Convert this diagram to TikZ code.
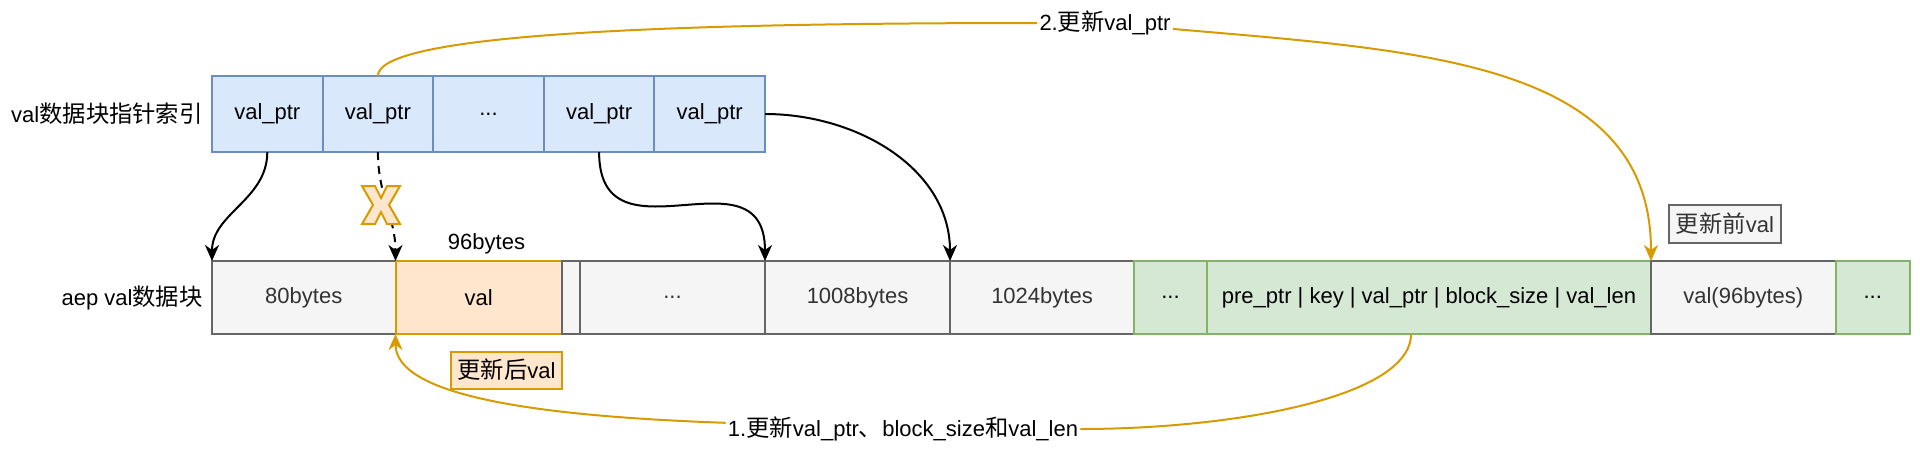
\documentclass[tikz,border=0pt]{standalone}
\usepackage{fontspec}
\setmainfont{Liberation Sans}
\newfontfamily\cjk[Scale=1.06]{Noto Sans CJK SC}
\usetikzlibrary{positioning,arrows.meta}

\definecolor{idxfill}{HTML}{DAE8FC}
\definecolor{idxline}{HTML}{6C8EBF}
\definecolor{blkfill}{HTML}{F5F5F5}
\definecolor{blkline}{HTML}{666666}
\definecolor{blktext}{HTML}{333333}
\definecolor{hdrfill}{HTML}{D5E8D4}
\definecolor{hdrline}{HTML}{82B366}
\definecolor{updfill}{HTML}{FFE6CC}
\definecolor{updline}{HTML}{D79B00}

\tikzset{
    idx/.style={draw=idxline, fill=idxfill, line width=1pt,
        minimum width=55.3pt, minimum height=38pt, inner sep=0pt, outer sep=0pt},
    blk/.style={draw=blkline, fill=blkfill, text=blktext, line width=1pt,
        minimum height=36.5pt, inner sep=0pt, outer sep=0pt},
    hdr/.style={blk, draw=hdrline, fill=hdrfill, text=black},
    upd/.style={blk, draw=updline, fill=updfill, text=black},
    tag/.style={draw=blkline, fill=blkfill, text=blktext, line width=1pt,
        minimum width=56pt, minimum height=19pt, inner sep=0pt},
    ptr/.style={line width=1pt, -{Stealth[length=8pt,width=7pt,inset=2.5pt]}},
    flow/.style={ptr, draw=updline, fill=none},
}

\begin{document}
\begin{tikzpicture}[x=0.5pt, y=0.5pt, font=\fontsize{11}{13}\selectfont]
            \useasboundingbox (0,0) rectangle (1920,452);
            % index of val pointers
            \node[idx, anchor=north west] (p1) at (212,376) {val\_ptr};
            \node[idx, right=0pt of p1] (p2) {val\_ptr};
            \node[idx, right=0pt of p2] (p3) {...};
            \node[idx, right=0pt of p3] (p4) {val\_ptr};
            \node[idx, right=0pt of p4] (p5) {val\_ptr};
            \node[anchor=east, inner sep=0pt] (idxname) at (203,338) {val{\cjk 数据块指针索引}};
            % aep data block
            \node[blk, minimum width=91.75pt, anchor=north west] (b80) at (212,191) {80bytes};
            \node[upd, minimum width=83.25pt, right=0pt of b80] (bval) {val};
            \node[blk, minimum width=9pt, right=0pt of bval] (bgap) {};
            \node[blk, minimum width=92.5pt, right=0pt of bgap] (bdots) {...};
            \node[blk, minimum width=92.5pt, right=0pt of bdots] (b1008) {1008bytes};
            \node[blk, minimum width=92pt, right=0pt of b1008] (b1024) {1024bytes};
            \node[hdr, minimum width=36.5pt, right=0pt of b1024] (gdots) {...};
            \node[hdr, minimum width=222pt, right=0pt of gdots] (ghead)
                {pre\_ptr | key | val\_ptr | block\_size | val\_len};
            \node[blk, minimum width=92.25pt, right=0pt of ghead] (b96) {val(96bytes)};
            \node[hdr, minimum width=37.25pt, right=0pt of b96] (gdots2) {...};
            \node[anchor=east, inner sep=0pt] (blkname) at (203,154.5) {aep val{\cjk 数据块}};
            \node (size) at (486.5,208) {96bytes};
            \node[tag] (before) at (1725,228) {{\cjk 更新前}val};
            \node[tag, draw=updline, fill=updfill, text=black,
                minimum width=55.5pt, minimum height=18.5pt] (after) at (506.5,82) {{\cjk 更新后}val};
            \node[inner sep=1pt] (step2) at (1105,429) {2.{\cjk 更新}val\_ptr};
            \node[inner sep=1pt] (step1) at (903,23)
                {1.{\cjk 更新}val\_ptr{\cjk 、}block\_size{\cjk 和}val\_len};
            % pointers
            \draw[ptr] (p1.south) to [out=-90,in=90] (b80.north west);
            \draw[ptr, dash pattern=on 4pt off 3pt] (p2.south) to [out=-90,in=90] (bval.north west);
            \draw[draw=updline, fill=updfill, line width=1pt, shift={(381,247)}]
                (-19,19) -- (-6,19) -- (0,7) -- (6,19) -- (19,19) -- (8,0)
                -- (19,-19) -- (6,-19) -- (0,-7) -- (-6,-19) -- (-19,-19) -- (-8,0) -- cycle;
            \draw[ptr] (p4.south) to [out=-90,in=90,looseness=1.5] (b1008.north west);
            \draw[ptr] (p5.east) to [out=0,in=90] (b1024.north west);
            % update steps
            \draw[flow,-] (p2.north)
                to [out=90,in=180,out distance=20pt,in distance=200pt] (step2);
            \draw[flow] (step2)
                to [out=-5,in=90,out distance=125pt,in distance=100pt] (b96.north west);
            \draw[flow,-] ([xshift=-9pt]ghead.south)
                to [out=-90,in=0,out distance=32pt,in distance=75pt] (step1);
            \draw[flow] (step1)
                to [out=178,in=-90,out distance=100pt,in distance=30pt] (bval.south west);
        \end{tikzpicture}
\end{document}
